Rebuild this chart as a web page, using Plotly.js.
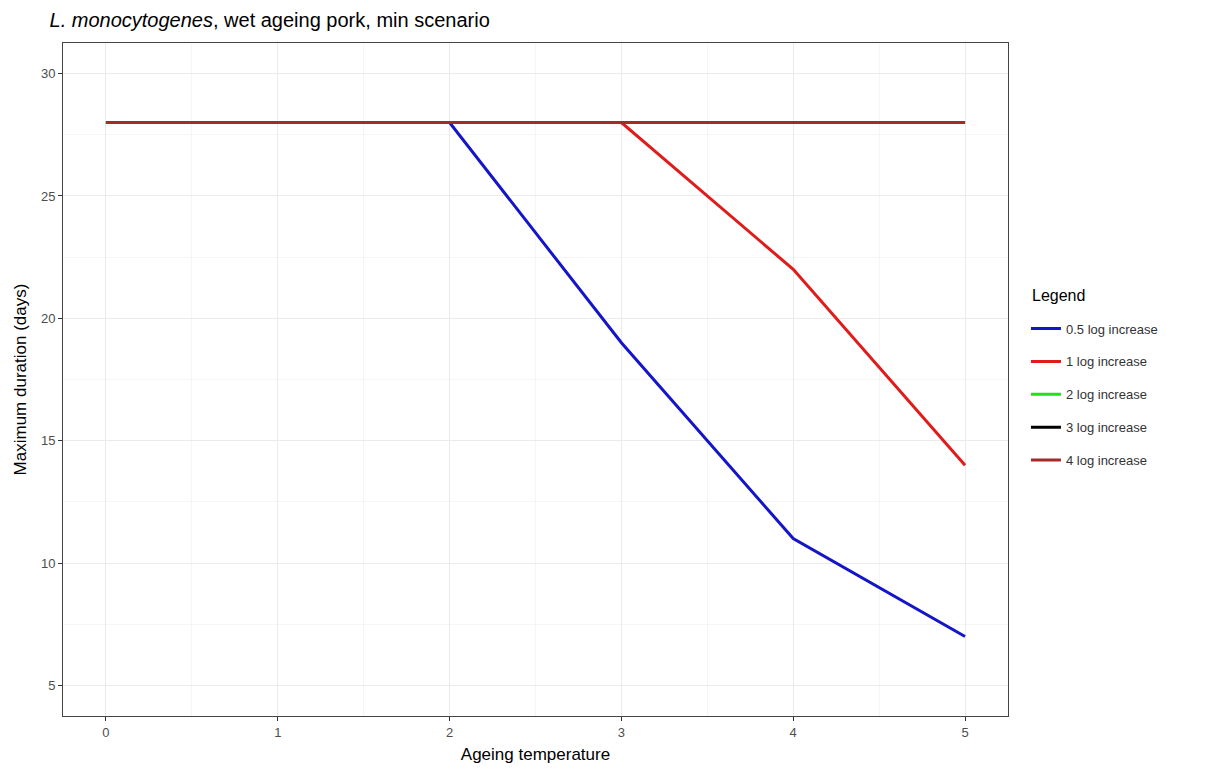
<!DOCTYPE html>
<html>
<head>
<meta charset="utf-8">
<script src="https://cdn.plot.ly/plotly-3.0.1.min.js"></script>
<style>
html,body{margin:0;padding:0;background:#fff;}
#chart{width:1208px;height:769px;}
</style>
</head>
<body>
<div id="chart"></div>
<script>
const temperature = [0, 1, 2, 3, 4, 5];
const log05 = [28, 28, 28, 19, 11, 7];
const log1 = [28, 28, 28, 28, 22, 14];
const log2 = [28, 28, 28, 28, 28, 28];
const log3 = [28, 28, 28, 28, 28, 28];
const log4 = [28, 28, 28, 28, 28, 28];
const seriesNames = ["0.5 log increase", "1 log increase", "2 log increase", "3 log increase", "4 log increase"];
const seriesValues = [log05, log1, log2, log3, log4];
const seriesColors = ["#1414c8", "#e01b1b", "#22dd22", "#000000", "#a52a2a"];

const traces = seriesValues.map((vals, i) => ({
  x: temperature,
  y: vals,
  type: "scatter",
  mode: "lines",
  name: seriesNames[i],
  legendgroup: "g" + i,
  line: {color: seriesColors[i], width: 3}
}));

const tickFont = {family: "Liberation Sans, Arial, sans-serif", size: 13, color: "#4d4d4d"};
const axisCommon = {
  showline: true, mirror: true, linecolor: "#444444", linewidth: 1,
  gridcolor: "#ebebeb", gridwidth: 1,
  ticks: "outside", ticklen: 4, tickcolor: "#333333", tickwidth: 1,
  tickfont: tickFont, zeroline: false, automargin: false
};

const layout = {
  width: 1208, height: 769,
  paper_bgcolor: "#ffffff", plot_bgcolor: "#ffffff",
  margin: {l: 63, r: 200, t: 43, b: 53},
  title: {
    text: "<i>L. monocytogenes</i>, wet ageing pork, min scenario",
    font: {family: "Liberation Sans, Arial, sans-serif", size: 20, color: "#000000"},
    xref: "container", yref: "container", x: 0.041, xanchor: "left", y: 0.974, yanchor: "middle"
  },
  xaxis: Object.assign({}, axisCommon, {
    range: [-0.25, 5.25], tickvals: [0, 1, 2, 3, 4, 5], ticktext: ["0", "1", "2", "3", "4", "5"],
    minor: {showgrid: true, gridcolor: "#f5f5f5", gridwidth: 1, tickvals: [0.5, 1.5, 2.5, 3.5, 4.5], ticks: ""},
    title: {text: "Ageing temperature", standoff: 9, font: {family: "Liberation Sans, Arial, sans-serif", size: 17, color: "#000000"}}
  }),
  yaxis: Object.assign({}, axisCommon, {
    range: [3.75, 31.25], tickvals: [5, 10, 15, 20, 25, 30], ticktext: ["5", "10", "15", "20", "25", "30"],
    minor: {showgrid: true, gridcolor: "#f5f5f5", gridwidth: 1, tickvals: [7.5, 12.5, 17.5, 22.5, 27.5], ticks: ""},
    title: {text: "Maximum duration (days)", standoff: 9, font: {family: "Liberation Sans, Arial, sans-serif", size: 17, color: "#000000"}}
  }),
  showlegend: true,
  legend: {
    x: 1.019, xanchor: "left", y: 0.598, yanchor: "top",
    font: {family: "Liberation Sans, Arial, sans-serif", size: 13, color: "#333333"},
    tracegroupgap: 13,
    itemwidth: 30,
    bgcolor: "rgba(0,0,0,0)"
  },
  annotations: [{
    text: "Legend", xref: "paper", yref: "paper",
    x: (1030 - 63) / 945, xanchor: "left",
    y: (716 - 295) / 673, yanchor: "middle",
    showarrow: false,
    font: {family: "Liberation Sans, Arial, sans-serif", size: 16, color: "#000000"}
  }]
};

Plotly.newPlot("chart", traces, layout, {displayModeBar: false, staticPlot: true});
</script>
</body>
</html>
